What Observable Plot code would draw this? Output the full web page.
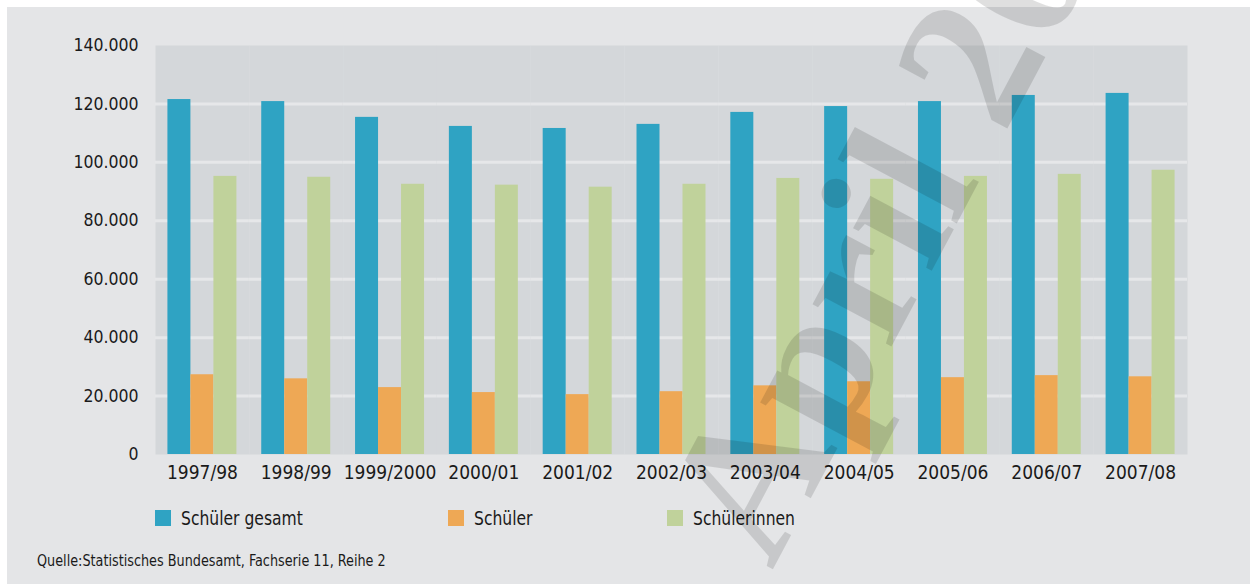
<!DOCTYPE html>
<html>
<head>
<meta charset="utf-8">
<script src="https://cdn.jsdelivr.net/npm/d3@7"></script>
<script src="https://cdn.jsdelivr.net/npm/@observablehq/plot@0.6"></script>
<style>
  html, body { margin: 0; padding: 0; background: #ffffff; width: 1250px; height: 584px; overflow: hidden; }
  body { position: relative; font-family: "DejaVu Sans Condensed", "Roboto", sans-serif; color: #1a1a1a; }
  #card { position: absolute; left: 7px; top: 7px; width: 1243px; height: 577px; background: #e4e5e7; }
  #chart { position: absolute; left: 0; top: 0; }
  .leg { position: absolute; top: 503px; height: 16px; display: flex; align-items: center; font-size: 20px; white-space: nowrap; }
  .leg .sw { width: 16px; height: 16px; margin-right: 10px; flex: none; }
  .leg .tx { display: inline-block; transform: scaleX(0.865); transform-origin: 0 50%; }
  #source { position: absolute; left: 30px; top: 544px; font-size: 16px; white-space: nowrap; transform: scaleX(0.89); transform-origin: 0 50%; }
  #wm { position: absolute; left: 0; top: 0; pointer-events: none; }
</style>
</head>
<body>
<div id="card">
  <div id="chart"></div>
  <div id="legend"></div>
  <div id="source"></div>
</div>
<svg id="wm" width="1250" height="584"></svg>
<script>
// ---- data ----
const years = ["1997/98","1998/99","1999/2000","2000/01","2001/02","2002/03","2003/04","2004/05","2005/06","2006/07","2007/08"];
const seriesNames = ["Schüler gesamt","Schüler","Schülerinnen"];
const seriesColors = ["#2fa3c3","#eea855","#c0d29b"];
const gesamt        = [121500,120800,115400,112300,111600,113000,117100,119100,120800,122900,123600];
const schueler      = [27300,25900,22900,21200,20500,21500,23500,24900,26300,27000,26600];
const schuelerinnen = [95200,94900,92500,92200,91500,92500,94500,94200,95200,95900,97300];
const yTicks = [0,20000,40000,60000,80000,100000,120000,140000];
const gridTicks = [20000,40000,60000,80000,100000,120000];
const sourceText = "Quelle:Statistisches Bundesamt, Fachserie 11, Reihe 2";
const watermarkText = "April 2009";

const valuesBySeries = [gesamt, schueler, schuelerinnen];
const data = years.flatMap((yr, i) => seriesNames.map((s, j) => ({year: yr, series: s, value: valuesBySeries[j][i]})));

const de = d3.formatLocale({decimal: ",", thousands: ".", grouping: [3], currency: ["", " €"]});
const fmt = de.format(",");

const font = '"DejaVu Sans Condensed", Roboto, sans-serif';

const chart = Plot.plot({
  width: 1243,
  height: 483,
  marginLeft: 148,
  marginRight: 63,
  marginTop: 38,
  marginBottom: 36,
  style: {background: "transparent", fontFamily: font, fontSize: "19px", color: "#1a1a1a", overflow: "visible"},
  fx: {domain: years, padding: 0, round: false, label: null},
  x: {domain: seriesNames, paddingInner: 0, paddingOuter: 0.54, round: false, axis: null},
  y: {domain: [0, 140000], label: null},
  color: {domain: seriesNames, range: seriesColors},
  marks: [
    Plot.frame({fill: "#d4d7da", stroke: "none"}),
    Plot.gridY(gridTicks, {stroke: "#e6e7e9", strokeOpacity: 1, strokeWidth: 3}),
    Plot.barY(data, {fx: "year", x: "series", y: "value", fill: "series"}),
    Plot.axisY(yTicks, {tickSize: 0, tickPadding: 17, tickFormat: fmt, label: null, fontSize: 17.5}),
    Plot.axisFx({anchor: "bottom", tickSize: 0, tickPadding: 11, label: null, fontSize: 19})
  ]
});
document.getElementById("chart").appendChild(chart);

// legend
const legLefts = [148, 441, 660];
const legend = document.getElementById("legend");
seriesNames.forEach((s, j) => {
  const d = document.createElement("div");
  d.className = "leg";
  d.style.left = legLefts[j] + "px";
  const sw = document.createElement("span");
  sw.className = "sw";
  sw.style.background = seriesColors[j];
  const t = document.createElement("span");
  t.className = "tx";
  t.textContent = s;
  d.appendChild(sw); d.appendChild(t);
  legend.appendChild(d);
});
document.getElementById("source").textContent = sourceText;

// watermark
const wm = d3.select("#wm");
wm.append("text")
  .attr("x", 772).attr("y", 571)
  .attr("transform", "rotate(-62 772 571)")
  .attr("font-family", '"Liberation Serif", "DejaVu Serif", serif')
  .attr("font-weight", "bold")
  .attr("font-size", 195)
  .attr("fill", "#000")
  .attr("fill-opacity", 0.125)
  .text(watermarkText);
</script>
</body>
</html>
